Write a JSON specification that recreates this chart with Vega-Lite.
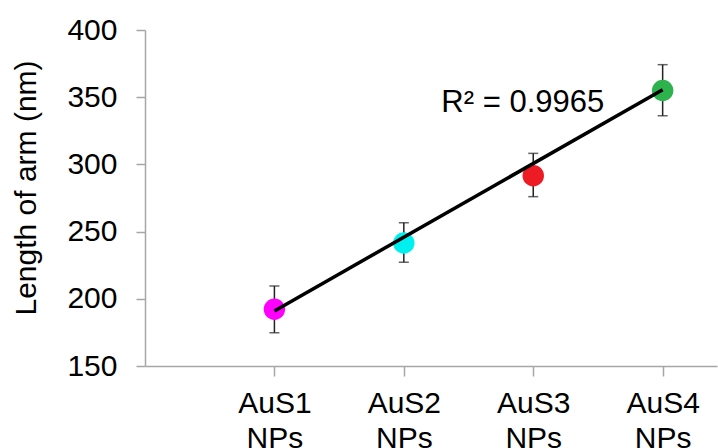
{
  "$schema": "https://vega.github.io/schema/vega-lite/v6.json",
  "autosize": {"type": "none"},
  "padding": {"left": 145, "top": 30, "right": 1, "bottom": 82},
  "width": 572,
  "height": 336,
  "background": "white",
  "config": {
    "view": {"stroke": null},
    "font": "Liberation Sans",
    "axis": {"grid": false, "domainColor": "#a6a6a6", "tickColor": "#a6a6a6", "domainWidth": 1.5, "tickWidth": 1.5, "labelColor": "#000", "titleColor": "#000", "labelFont": "Liberation Sans", "titleFont": "Liberation Sans", "labelFontWeight": "normal", "titleFontWeight": "normal"}
  },
  "datasets": {
    "pts": [
      {"pos": 1, "sample": "AuS1 NPs", "len": 192.2, "lo": 174.8, "hi": 209.5, "c": "AuS1"},
      {"pos": 2, "sample": "AuS2 NPs", "len": 241.5, "lo": 227.2, "hi": 256.6, "c": "AuS2"},
      {"pos": 3, "sample": "AuS3 NPs", "len": 291.6, "lo": 276.0, "hi": 308.2, "c": "AuS3"},
      {"pos": 4, "sample": "AuS4 NPs", "len": 355.0, "lo": 336.2, "hi": 374.2, "c": "AuS4"}
    ],
    "trend": [
      {"pos": 1, "fit": 191.0},
      {"pos": 4, "fit": 355.5}
    ]
  },
  "layer": [
    {
      "data": {"name": "pts"},
      "mark": {"type": "rule", "color": "#222222", "strokeWidth": 1.5},
      "encoding": {
        "x": {"field": "pos", "type": "quantitative",
              "scale": {"domain": [0, 4.42], "nice": false, "zero": false},
              "axis": {"values": [1, 2, 3, 4], "title": null, "tickSize": 10, "labelFontSize": 30, "labelPadding": 12, "labelLineHeight": 35.5, "labelAlign": "center",
                       "labelExpr": "datum.value == 1 ? ['AuS1','NPs'] : datum.value == 2 ? ['AuS2','NPs'] : datum.value == 3 ? ['AuS3','NPs'] : ['AuS4','NPs']"}},
        "y": {"field": "lo", "type": "quantitative",
              "scale": {"domain": [150, 400], "nice": false, "zero": false},
              "axis": {"values": [150, 200, 250, 300, 350, 400], "title": "Length of arm (nm)", "titleFontSize": 30, "labelFontSize": 30, "tickSize": 9, "labelPadding": 19, "titleX": -104, "titleY": 157.5}},
        "y2": {"field": "hi"}
      }
    },
    {
      "data": {"name": "pts"},
      "mark": {"type": "tick", "orient": "horizontal", "color": "#222222", "size": 10, "thickness": 1.5},
      "encoding": {
        "x": {"field": "pos", "type": "quantitative"},
        "y": {"field": "lo", "type": "quantitative"}
      }
    },
    {
      "data": {"name": "pts"},
      "mark": {"type": "tick", "orient": "horizontal", "color": "#222222", "size": 10, "thickness": 1.5},
      "encoding": {
        "x": {"field": "pos", "type": "quantitative"},
        "y": {"field": "hi", "type": "quantitative"}
      }
    },
    {
      "data": {"name": "pts"},
      "mark": {"type": "circle", "size": 460, "opacity": 1},
      "encoding": {
        "x": {"field": "pos", "type": "quantitative"},
        "y": {"field": "len", "type": "quantitative"},
        "color": {"field": "c", "type": "nominal", "legend": null,
                  "scale": {"domain": ["AuS1", "AuS2", "AuS3", "AuS4"], "range": ["#ff00ff", "#00f0f0", "#ed1c24", "#2eb24e"]}}
      }
    },
    {
      "data": {"name": "trend"},
      "mark": {"type": "line", "color": "#000000", "strokeWidth": 3.5},
      "encoding": {
        "x": {"field": "pos", "type": "quantitative"},
        "y": {"field": "fit", "type": "quantitative"}
      }
    },
    {
      "data": {"values": [{"label": "R² = 0.9965"}]},
      "mark": {"type": "text", "align": "left", "baseline": "alphabetic", "fontSize": 31, "font": "Liberation Sans", "color": "#000"},
      "encoding": {
        "x": {"datum": 2.29, "type": "quantitative"},
        "y": {"datum": 339.2, "type": "quantitative"},
        "text": {"field": "label"}
      }
    }
  ]
}
